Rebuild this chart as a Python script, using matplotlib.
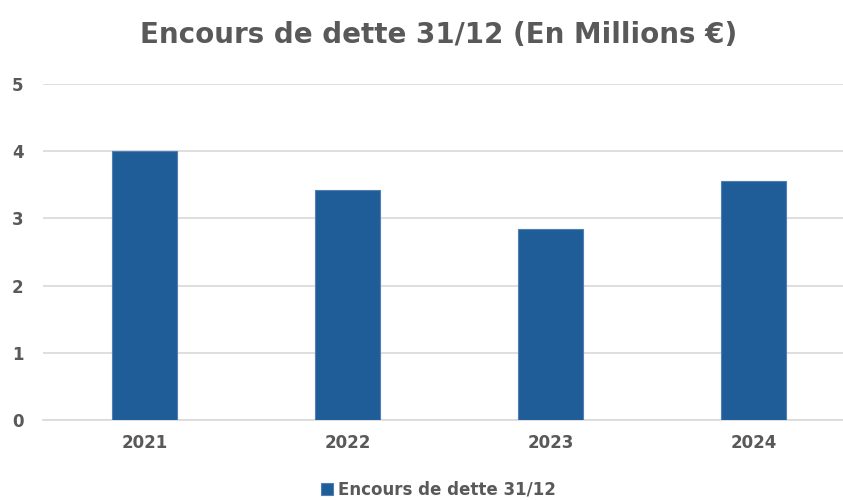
import matplotlib.pyplot as plt
import numpy as np

years = ["2021", "2022", "2023", "2024"]
encours = [4.0, 3.42, 2.84, 3.55]

grey = "#595959"
blue = "#1F5D99"

plt.rcParams['font.family'] = ['DejaVu Sans']

fig = plt.figure(figsize=(8.43, 5.0), dpi=100)
ax = fig.add_axes([43 / 843, 80 / 500, 812 / 843, 336 / 500])

x = np.arange(len(years))
ax.bar(x, encours, width=0.32, color=blue, edgecolor="#4F7FB3", linewidth=0.8,
       label="Encours de dette 31/12", zorder=3)

ax.set_xlim(-0.5, 3.5)
ax.set_ylim(0, 5)
ax.set_yticks(range(6))
ax.set_xticks(x)
ax.set_xticklabels(years)
ax.grid(axis="y", color="#D9D9D9", linewidth=1.2, zorder=0)
for s in ["top", "right", "left"]:
    ax.spines[s].set_visible(False)
ax.spines["bottom"].set_color("#D9D9D9")
ax.spines["bottom"].set_linewidth(1.2)
ax.tick_params(length=0, labelsize=12, labelcolor=grey, pad=10)
ax.tick_params(axis="y", pad=14)
for lbl in ax.get_xticklabels() + ax.get_yticklabels():
    lbl.set_fontweight("bold")

fig.text(0.52, 0.93, "Encours de dette 31/12 (En Millions €)", ha="center", va="center",
         fontsize=20, fontweight="bold", color=grey)

leg = fig.legend(loc="center", bbox_to_anchor=(0.52, 0.02), frameon=False,
                 handlelength=0.7, handleheight=0.7, handletextpad=0.3,
                 prop={"size": 12, "weight": "bold"})
for t in leg.get_texts():
    t.set_color(grey)

fig.savefig("out.png", dpi=100)
